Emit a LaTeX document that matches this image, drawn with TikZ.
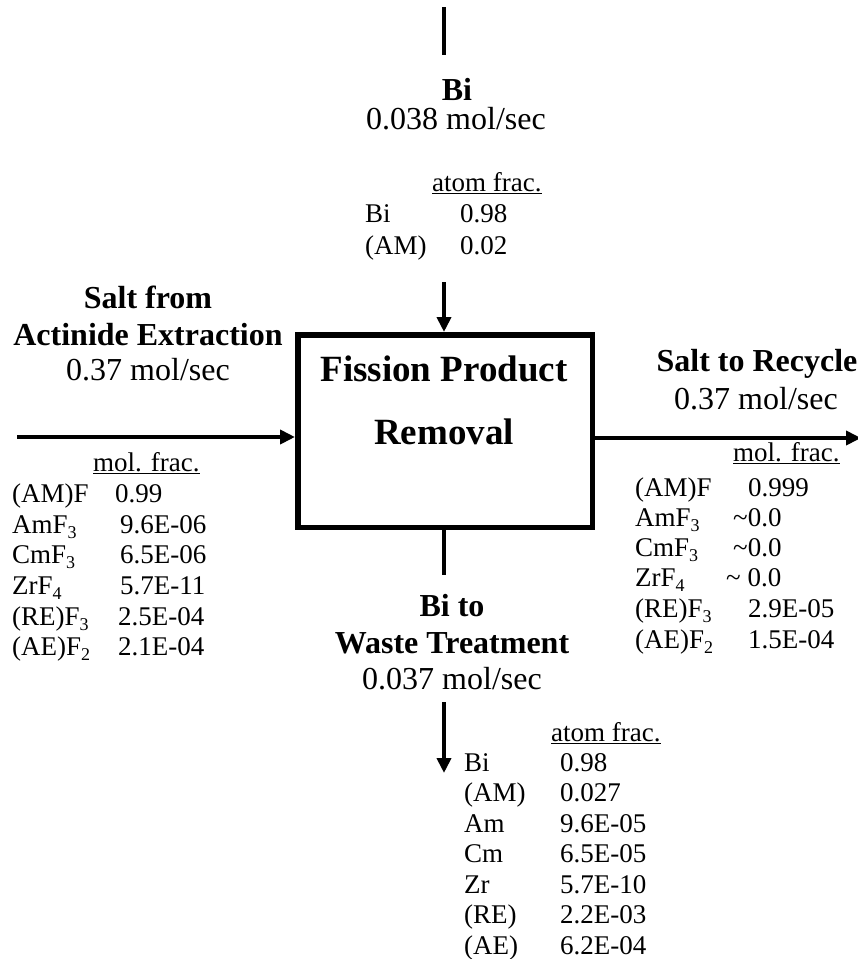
\documentclass[tikz,border=0pt]{standalone}
\usepackage{fontspec}
\setmainfont{Liberation Serif}
\usetikzlibrary{arrows.meta}
\newcommand{\lsub}[1]{\raisebox{-0.22em}{\fontsize{18}{18}\selectfont #1}}
\begin{document}
\begin{tikzpicture}[x=1pt,y=-1pt,
  lbl/.style={anchor=base,inner sep=0pt,font=\fontsize{32}{36}\selectfont},
  blbl/.style={lbl,font=\fontsize{32}{36}\selectfont\bfseries},
  tab/.style={anchor=base west,inner sep=0pt,font=\fontsize{27}{30}\selectfont},
  ttl/.style={anchor=base,inner sep=0pt,font=\fontsize{37}{40}\selectfont\bfseries},
  flow/.style={line width=4.8pt,-{Triangle[length=15pt,width=14pt]}},
  plain/.style={line width=4.8pt},
  procbox/.style={draw,line width=5.5pt,minimum width=294.5pt,minimum height=192.5pt,inner sep=0pt}]
\useasboundingbox (0,0) rectangle (858,959);
% process box
\node[procbox] (box) at (445,431) {};
\node[ttl] (t1) at (444,381) {Fission Product};
\node[ttl] (t2) at (444,444) {Removal};
% top stream
\coordinate (topA) at (444,7);
\coordinate (topB) at (444,55);
\draw[plain] (topA) -- (topB);
\node[blbl] (biT) at (457,100) {Bi};
\node[lbl] (biR) at (456,129) {0.038 mol/sec};
\node[tab] (afT) at (432,191) {\underline{atom frac.}};
\node[tab] (tb1) at (365,222) {Bi};
\node[tab] (tv1) at (460,222) {0.98};
\node[tab] (tb2) at (365,254) {(AM)};
\node[tab] (tv2) at (460,254) {0.02};
\coordinate (topC) at (444,282);
\draw[flow] (topC) -- (topC |- box.north);
% left stream
\node[blbl] (sf1) at (148,308) {Salt from};
\node[blbl] (sf2) at (148,345) {Actinide Extraction};
\node[lbl] (sfr) at (148,380) {0.37 mol/sec};
\coordinate (lin) at (17,437);
\draw[flow] (lin) -- (lin -| box.west);
\node[tab] (lmf) at (93,471) {\underline{mol. frac.}};
\node[tab] (l1) at (12,502) {(AM)F};   \node[tab] (lv1) at (115,502) {0.99};
\node[tab] (l2) at (12,533) {AmF\lsub{3}}; \node[tab] (lv2) at (120,533) {9.6E-06};
\node[tab] (l3) at (12,563) {CmF\lsub{3}}; \node[tab] (lv3) at (120,563) {6.5E-06};
\node[tab] (l4) at (12,594) {ZrF\lsub{4}}; \node[tab] (lv4) at (120,594) {5.7E-11};
\node[tab] (l5) at (12,625) {(RE)F\lsub{3}}; \node[tab] (lv5) at (118,625) {2.5E-04};
\node[tab] (l6) at (12,655) {(AE)F\lsub{2}}; \node[tab] (lv6) at (118,655) {2.1E-04};
% right stream
\node[blbl] (sr1) at (757,371) {Salt to Recycle};
\node[lbl] (srr) at (756,409) {0.37 mol/sec};
\coordinate (rout) at (861,438);
\draw[flow] (rout -| box.east) -- (rout);
\node[tab] (rmf) at (733,461) {\underline{mol. frac.}};
\node[tab] (r1) at (635,496) {(AM)F};   \node[tab] (rv1) at (748,496) {0.999};
\node[tab] (r2) at (635,526) {AmF\lsub{3}}; \node[tab] (rv2) at (733,526) {\textasciitilde0.0};
\node[tab] (r3) at (635,556) {CmF\lsub{3}}; \node[tab] (rv3) at (733,556) {\textasciitilde0.0};
\node[tab] (r4) at (635,586) {ZrF\lsub{4}}; \node[tab] (rv4) at (726,586) {\textasciitilde\ 0.0};
\node[tab] (r5) at (635,617) {(RE)F\lsub{3}}; \node[tab] (rv5) at (748,617) {2.9E-05};
\node[tab] (r6) at (635,648) {(AE)F\lsub{2}}; \node[tab] (rv6) at (748,648) {1.5E-04};
% bottom stream
\coordinate (botB) at (444,575);
\draw[plain] (box.south -| botB) -- (botB);
\node[blbl] (bw1) at (452,616) {Bi to};
\node[blbl] (bw2) at (452,653) {Waste Treatment};
\node[lbl] (bwr) at (452,689) {0.037 mol/sec};
\coordinate (botC) at (444,702);
\coordinate (botD) at (444,773);
\draw[flow] (botC) -- (botD);
\node[tab] (baf) at (551,741) {\underline{atom frac.}};
\node[tab] (b1) at (464,771) {Bi};   \node[tab] (bv1) at (560,771) {0.98};
\node[tab] (b2) at (464,801) {(AM)}; \node[tab] (bv2) at (560,801) {0.027};
\node[tab] (b3) at (464,832) {Am};   \node[tab] (bv3) at (560,832) {9.6E-05};
\node[tab] (b4) at (464,862) {Cm};   \node[tab] (bv4) at (560,862) {6.5E-05};
\node[tab] (b5) at (464,893) {Zr};   \node[tab] (bv5) at (560,893) {5.7E-10};
\node[tab] (b6) at (464,923) {(RE)}; \node[tab] (bv6) at (560,923) {2.2E-03};
\node[tab] (b7) at (464,954) {(AE)}; \node[tab] (bv7) at (560,954) {6.2E-04};
\end{tikzpicture}
\end{document}
